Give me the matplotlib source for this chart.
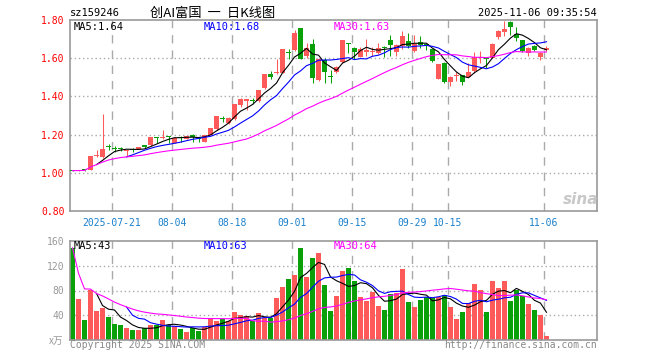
#!/usr/bin/env python3
"""Daily K-line chart of sz159246 with volume panel, sina finance style."""

import matplotlib

matplotlib.use("Agg")
import matplotlib.pyplot as plt
import pandas as pd

# trading days 2025-07-10 .. 2025-11-06 (national day holiday removed)
days = pd.bdate_range("2025-07-10", "2025-11-06")
days = days[(days < "2025-10-01") | (days > "2025-10-08")]

opens = [1.013, 1.011, 1.015, 1.017, 1.088, 1.082, 1.136, 1.127, 1.127, 1.112,
         1.122, 1.127, 1.140, 1.143, 1.183, 1.184, 1.190, 1.157, 1.187, 1.178,
         1.194, 1.180, 1.162, 1.200, 1.227, 1.286, 1.259, 1.280, 1.353, 1.378,
         1.380, 1.376, 1.445, 1.515, 1.520, 1.524, 1.632, 1.643, 1.756, 1.611,
         1.672, 1.486, 1.589, 1.505, 1.530, 1.580, 1.675, 1.655, 1.608, 1.635,
         1.632, 1.629, 1.660, 1.695, 1.634, 1.664, 1.690, 1.638, 1.683, 1.670,
         1.646, 1.493, 1.576, 1.475, 1.505, 1.510, 1.503, 1.533, 1.601, 1.600,
         1.603, 1.711, 1.737, 1.790, 1.725, 1.693, 1.629, 1.664, 1.606, 1.643]
highs = [1.014, 1.016, 1.016, 1.088, 1.119, 1.306, 1.152, 1.140, 1.135, 1.117,
         1.130, 1.132, 1.146, 1.186, 1.186, 1.222, 1.194, 1.180, 1.192, 1.195,
         1.205, 1.186, 1.200, 1.236, 1.300, 1.300, 1.290, 1.360, 1.393, 1.384,
         1.393, 1.435, 1.515, 1.533, 1.597, 1.648, 1.650, 1.750, 1.756, 1.678,
         1.700, 1.600, 1.600, 1.540, 1.560, 1.695, 1.681, 1.660, 1.660, 1.700,
         1.660, 1.680, 1.664, 1.720, 1.675, 1.740, 1.730, 1.720, 1.715, 1.675,
         1.650, 1.570, 1.578, 1.505, 1.530, 1.512, 1.575, 1.632, 1.638, 1.606,
         1.680, 1.750, 1.795, 1.795, 1.765, 1.693, 1.658, 1.670, 1.632, 1.662]
lows = [1.008, 1.007, 1.011, 1.014, 1.084, 1.080, 1.120, 1.110, 1.112, 1.088,
        1.110, 1.125, 1.130, 1.140, 1.154, 1.178, 1.154, 1.155, 1.160, 1.175,
        1.162, 1.160, 1.160, 1.198, 1.225, 1.265, 1.255, 1.275, 1.346, 1.328,
        1.358, 1.372, 1.440, 1.490, 1.515, 1.520, 1.597, 1.640, 1.597, 1.603,
        1.472, 1.480, 1.470, 1.468, 1.520, 1.575, 1.629, 1.597, 1.605, 1.610,
        1.610, 1.620, 1.608, 1.610, 1.610, 1.650, 1.655, 1.630, 1.655, 1.645,
        1.578, 1.490, 1.470, 1.455, 1.483, 1.462, 1.500, 1.520, 1.577, 1.550,
        1.600, 1.700, 1.715, 1.720, 1.690, 1.635, 1.610, 1.640, 1.590, 1.640]
closes = [1.011, 1.013, 1.013, 1.086, 1.091, 1.122, 1.133, 1.124, 1.124, 1.115,
          1.119, 1.130, 1.137, 1.185, 1.180, 1.187, 1.187, 1.180, 1.184, 1.192,
          1.190, 1.177, 1.197, 1.234, 1.300, 1.282, 1.288, 1.358, 1.384, 1.381,
          1.377, 1.433, 1.515, 1.500, 1.525, 1.646, 1.627, 1.733, 1.597, 1.655,
          1.498, 1.597, 1.528, 1.500, 1.554, 1.693, 1.672, 1.632, 1.650, 1.640,
          1.636, 1.652, 1.655, 1.667, 1.667, 1.716, 1.664, 1.676, 1.670, 1.667,
          1.585, 1.568, 1.475, 1.503, 1.508, 1.475, 1.527, 1.608, 1.605, 1.594,
          1.676, 1.742, 1.751, 1.765, 1.707, 1.638, 1.655, 1.643, 1.629, 1.655]
# volume in 10k shares
volumes = [149, 66.6, 32, 81.6, 46.7, 51.5, 37, 25.8, 24, 19.3,
           16, 16, 19.3, 24, 23.6, 32, 25, 22.5, 17.7, 12.9,
           19.9, 14.5, 21.5, 34.9, 30.6, 33.8, 31, 45, 39.7, 39.2,
           30, 43.5, 34.9, 36, 68.2, 85.4, 98.3, 104.7, 148, 101.5,
           132, 140.7, 88.6, 46.7, 70.9, 111, 116, 95.6, 69.3, 63.4,
           77.3, 54.8, 48.3, 74, 76.3, 114.4, 61.2, 53.2, 64.4, 69.3,
           68.2, 69.3, 72.5, 53.2, 34.4, 45.1, 59.1, 90.2, 80.6, 45.1,
           95, 83.8, 95, 62.8, 80.6, 70.9, 58, 48.3, 40.3, 6.4]

tick_dates = ["2025-07-21", "2025-08-04", "2025-08-18", "2025-09-01",
              "2025-09-15", "2025-09-29", "2025-10-15", "2025-11-06"]
tick_labels = ["2025-07-21", "08-04", "08-18", "09-01",
               "09-15", "09-29", "10-15", "11-06"]
price_ma_labels = ["MA5:1.64", "MA10:1.68", "MA30:1.63"]
vol_ma_labels = ["MA5:43", "MA10:63", "MA30:64"]

RED = "#ff5a5a"
GREEN = "#0aa00a"
GRID = "#aaaaaa"
MONO = "DejaVu Sans Mono"
W, H = 660, 360


def frac(x, y):
    return x / W, 1 - y / H


def rect(x0, y0, x1, y1):
    return [x0 / W, 1 - y1 / H, (x1 - x0) / W, (y1 - y0) / H]


df = pd.DataFrame({"open": opens, "high": highs, "low": lows,
                   "close": closes, "vol": volumes})
n = len(df)
x = list(range(n))
up = df["close"] >= df["open"]
colors = [RED if u else GREEN for u in up]

fig = plt.figure(figsize=(6.6, 3.6), dpi=100)
ax = fig.add_axes(rect(70, 20, 597, 211))
axv = fig.add_axes(rect(70, 241, 597, 340))

xlim = (-0.42, 87.42)
tick_pos = [days.get_loc(pd.Timestamp(d)) - 0.42 for d in tick_dates]

for a in (ax, axv):
    a.set_xlim(*xlim)
    for s in a.spines.values():
        s.set_color("#999999")
        s.set_linewidth(1.2)
    for p in tick_pos:
        a.axvline(p, color=GRID, lw=1, dashes=(6, 5), zorder=0)

# --- price panel
ax.set_ylim(0.8, 1.8)
for lvl in (1.0, 1.2, 1.4, 1.6):
    ax.axhline(lvl, color=GRID, lw=1, dashes=(1, 2), zorder=0)
ax.vlines(x, df["low"], df["high"], colors=colors, lw=0.75, zorder=2)
body = (df["close"] - df["open"]).abs().clip(lower=0.006)
bottom = df[["open", "close"]].min(axis=1)
ax.bar(x, body, bottom=bottom, width=0.85, color=colors, lw=0, zorder=3)

ma5 = df["close"].rolling(5).mean()
ma10 = df["close"].rolling(10).mean()
ma30 = df["close"].rolling(30, min_periods=1).mean()
ax.plot(x, ma5, color="black", lw=0.8, zorder=4)
ax.plot(x, ma10, color="#0000ff", lw=0.8, zorder=4)
ax.plot(x, ma30, color="#ff00ff", lw=0.8, zorder=4)

ax.set_yticks([0.8, 1.0, 1.2, 1.4, 1.6, 1.8])
ax.set_yticklabels([f"{v:.2f}" for v in ax.get_yticks()], color="red",
                   fontsize=7, family=MONO)
ax.set_xticks(tick_pos)
ax.set_xticklabels(tick_labels, color="#1a80cc", fontsize=7, family=MONO)
ax.tick_params(length=0, pad=4)
ax.tick_params(axis="x", pad=5)

# --- volume panel
axv.set_ylim(0, 160)
for lvl in (40, 80, 120):
    axv.axhline(lvl, color=GRID, lw=1, dashes=(1, 2), zorder=0)
axv.bar(x, df["vol"], width=0.85, color=colors, lw=0, zorder=2)
axv.plot(x, df["vol"].rolling(5).mean(), color="black", lw=0.8, zorder=3)
axv.plot(x, df["vol"].rolling(10).mean(), color="#0000ff", lw=0.8, zorder=3)
axv.plot(x, df["vol"].rolling(30, min_periods=1).mean(), color="#ff00ff",
         lw=0.8, zorder=3)
axv.set_yticks([40, 80, 120, 160])
axv.set_yticklabels(["40", "80", "120", "160"], color="#999999",
                    fontsize=7, family=MONO)
axv.set_xticks([])
axv.tick_params(length=0, pad=4)

# --- texts
fig.text(*frac(70, 13.5), "sz159246", fontsize=7.5, family=MONO, va="center")
fig.text(*frac(150, 13), "创AI富国  一  日K线图", fontsize=9.5,
         family=["Noto Sans CJK SC", "DejaVu Sans"], va="center")
fig.text(*frac(597, 13.5), "2025-11-06 09:35:54", fontsize=7.5, family=MONO,
         va="center", ha="right")

ma_colors = ["black", "#0000ff", "#ff00ff"]
for xp, lab, lv, c in zip((74, 204, 334), price_ma_labels, vol_ma_labels,
                          ma_colors):
    fig.text(*frac(xp, 26.5), lab, fontsize=7.5, family=MONO, color=c,
             va="center")
    fig.text(*frac(xp, 246), lv, fontsize=7.5, family=MONO, color=c,
             va="center")

fig.text(*frac(49, 340.5), "x万", fontsize=7, color="#999999", va="center",
         family=["Noto Sans CJK SC", "DejaVu Sans"])
fig.text(*frac(70, 345.5), "Copyright 2025 SINA.COM", fontsize=7,
         family=MONO, color="#888888", va="center")
fig.text(*frac(597, 345.5), "http://finance.sina.com.cn", fontsize=7,
         family=MONO, color="#888888", va="center", ha="right")
fig.text(*frac(581, 199), "sina", fontsize=11, fontweight="bold",
         style="italic", color="#c8c8c8", ha="center", va="center")

fig.savefig("out.png", dpi=100)
